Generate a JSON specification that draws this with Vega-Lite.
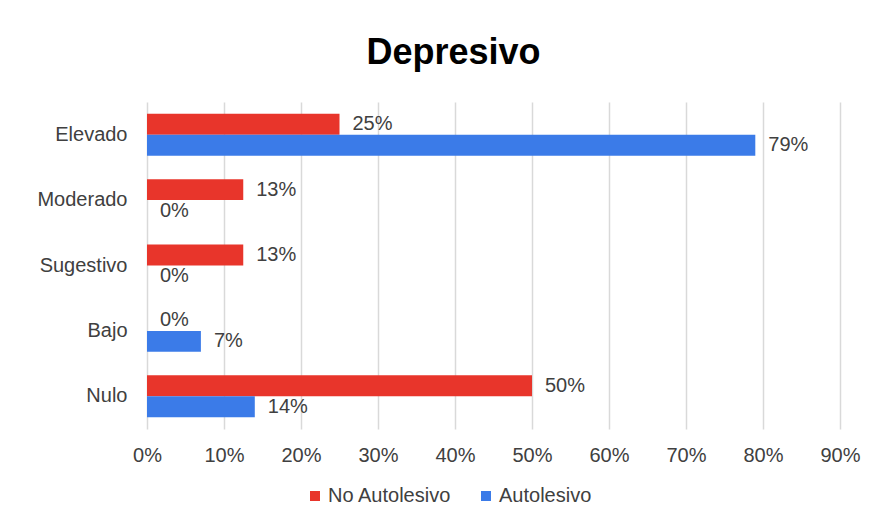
{
  "$schema": "https://vega.github.io/schema/vega-lite/v6.json",
  "autosize": {"type": "none"},
  "width": 693,
  "height": 327,
  "padding": {"left": 147, "top": 102, "right": 35, "bottom": 102},
  "background": "white",
  "title": {
    "text": "Depresivo",
    "fontSize": 36,
    "font": "Liberation Sans",
    "fontWeight": "bold",
    "color": "#000000",
    "anchor": "middle",
    "dx": -40,
    "offset": 30
  },
  "config": {
    "view": {"stroke": null},
    "font": "Liberation Sans"
  },
  "data": {
    "values": [
      {"nivel": "Elevado", "grupo": "No Autolesivo", "valor": 0.25},
      {"nivel": "Elevado", "grupo": "Autolesivo", "valor": 0.79},
      {"nivel": "Moderado", "grupo": "No Autolesivo", "valor": 0.125},
      {"nivel": "Moderado", "grupo": "Autolesivo", "valor": 0.0},
      {"nivel": "Sugestivo", "grupo": "No Autolesivo", "valor": 0.125},
      {"nivel": "Sugestivo", "grupo": "Autolesivo", "valor": 0.0},
      {"nivel": "Bajo", "grupo": "No Autolesivo", "valor": 0.0},
      {"nivel": "Bajo", "grupo": "Autolesivo", "valor": 0.07},
      {"nivel": "Nulo", "grupo": "No Autolesivo", "valor": 0.5},
      {"nivel": "Nulo", "grupo": "Autolesivo", "valor": 0.14}
    ]
  },
  "encoding": {
    "y": {
      "field": "nivel",
      "type": "nominal",
      "sort": ["Elevado", "Moderado", "Sugestivo", "Bajo", "Nulo"],
      "scale": {"paddingInner": 0.36, "paddingOuter": 0.18},
      "axis": {
        "title": null,
        "domain": false,
        "ticks": false,
        "labelFontSize": 20,
        "labelColor": "#404040",
        "labelPadding": 20
      }
    },
    "yOffset": {
      "field": "grupo",
      "type": "nominal",
      "sort": ["No Autolesivo", "Autolesivo"],
      "scale": {"paddingInner": 0, "paddingOuter": 0}
    },
    "x": {
      "field": "valor",
      "type": "quantitative",
      "scale": {"domain": [0, 0.9], "nice": false},
      "axis": {
        "title": null,
        "format": ".0%",
        "values": [0, 0.1, 0.2, 0.3, 0.4, 0.5, 0.6, 0.7, 0.8, 0.9],
        "domain": false,
        "ticks": false,
        "grid": true,
        "gridColor": "#d9d9d9",
        "gridWidth": 1.5,
        "labelFlush": false,
        "labelFontSize": 20,
        "labelColor": "#404040",
        "labelPadding": 16
      }
    }
  },
  "layer": [
    {
      "mark": {"type": "bar"},
      "encoding": {
        "color": {
          "field": "grupo",
          "type": "nominal",
          "sort": ["No Autolesivo", "Autolesivo"],
          "scale": {"domain": ["No Autolesivo", "Autolesivo"], "range": ["#e8352b", "#3b7be8"]},
          "legend": {
            "title": null,
            "orient": "none",
            "direction": "horizontal",
            "legendX": 158,
            "legendY": 384,
            "symbolType": "square",
            "symbolSize": 100,
            "symbolStrokeWidth": 0,
            "labelFontSize": 20,
            "labelColor": "#404040",
            "labelOffset": 3,
            "columnPadding": 24
          }
        }
      }
    },
    {
      "mark": {"type": "text", "align": "left", "baseline": "middle", "dx": 13, "fontSize": 20, "color": "#404040"},
      "encoding": {
        "text": {"field": "valor", "type": "quantitative", "format": ".0%"}
      }
    }
  ]
}
